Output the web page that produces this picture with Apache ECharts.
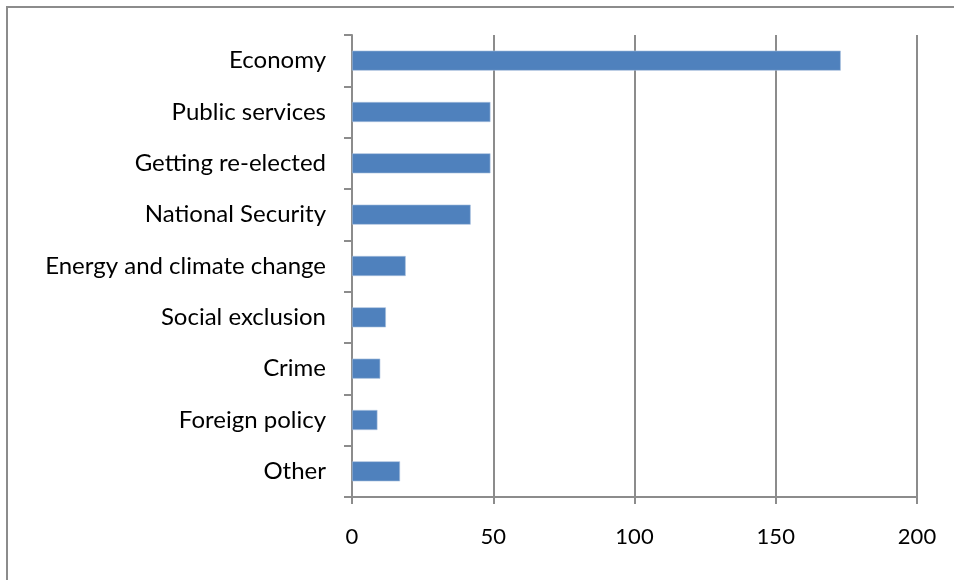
<!DOCTYPE html>
<html>
<head>
<meta charset="utf-8">
<script src="https://cdn.jsdelivr.net/npm/echarts@6/dist/echarts.min.js"></script>
<style>
  html, body { margin: 0; padding: 0; background: #fff; }
  #chart { width: 954px; height: 580px; }
</style>
</head>
<body>
<div id="chart"></div>
<script>
"use strict";

// Survey categories, top to bottom as shown
const categories = [
  "Economy", "Public services", "Getting re-elected", "National Security",
  "Energy and climate change", "Social exclusion", "Crime", "Foreign policy", "Other",
];
// Counts
const counts = [173, 49, 49, 42, 19, 12, 10, 9, 17];
// Value axis ticks
const xTicks = [0, 50, 100, 150, 200];

const GRAY = "#8c8c8c";
const FONT = "Lato";

const chart = echarts.init(document.getElementById("chart"), null, { renderer: "canvas" });

chart.setOption({
  backgroundColor: "#ffffff",
  animation: false,
  // Excel-style outer chart border, cropped at right/bottom
  graphic: [{
    type: "rect",
    shape: { x: 7, y: 7, width: 1200, height: 1200 },
    style: { fill: "none", stroke: GRAY, lineWidth: 2 },
    silent: true,
  }],
  grid: { left: 352, right: 37, top: 35, bottom: 83, containLabel: false },
  xAxis: {
    type: "value",
    min: xTicks[0],
    max: xTicks[xTicks.length - 1],
    interval: xTicks[1] - xTicks[0],
    axisLine: { show: true, lineStyle: { color: GRAY, width: 2 } },
    axisTick: { show: true, length: 7, lineStyle: { color: GRAY, width: 2 } },
    axisLabel: { color: "#000", fontFamily: FONT, fontSize: 22, margin: 29 },
    splitLine: { show: true, lineStyle: { color: GRAY, width: 2 } },
  },
  yAxis: {
    type: "category",
    data: categories,
    inverse: true,
    axisLine: { show: true, lineStyle: { color: GRAY, width: 2 } },
    axisTick: { show: true, length: 8, lineStyle: { color: GRAY, width: 2 } },
    axisLabel: { color: "#000", fontFamily: FONT, fontSize: 24, margin: 26 },
    splitLine: { show: false },
  },
  series: [{
    type: "bar",
    data: counts,
    barWidth: 20,
    itemStyle: { color: "#4f81bd", borderColor: "#a7bfde", borderWidth: 0.6 },
  }],
});
</script>
</body>
</html>
